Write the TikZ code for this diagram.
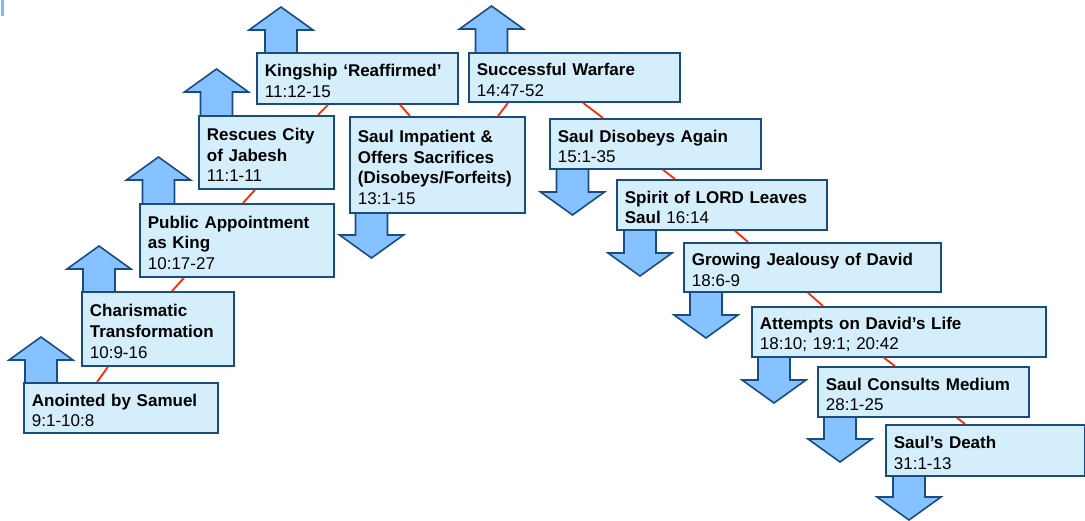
\documentclass[tikz,border=0pt]{standalone}
\usepackage{fontspec}
\setmainfont{Liberation Sans}
\usetikzlibrary{calc}
\definecolor{boxfill}{HTML}{D5EEFB}
\definecolor{boxline}{HTML}{1A4C7E}
\definecolor{arrfill}{HTML}{85C2FF}
\definecolor{linkred}{HTML}{FF2A00}
\definecolor{barblue}{HTML}{80B8FF}
\newcommand\fstrut{\rule{0pt}{17.3pt}}
\newcommand\UpArr[3]{\draw[arrowshape] ({#1-16},#3) -- ({#1-16},{#2+23}) -- ({#1-32},{#2+23}) -- (#1,#2) -- ({#1+32},{#2+23}) -- ({#1+16},{#2+23}) -- ({#1+16},#3) -- cycle;}
\newcommand\DnArr[3]{\draw[arrowshape] ({#1-16},#3) -- ({#1-16},{#2-23}) -- ({#1-32},{#2-23}) -- (#1,#2) -- ({#1+32},{#2-23}) -- ({#1+16},{#2-23}) -- ({#1+16},#3) -- cycle;}
\begin{document}
\begin{tikzpicture}[x=1pt,y=-1pt,
  evbox/.style={draw=boxline, fill=boxfill, line width=1.8pt, inner xsep=8pt, inner ysep=0pt,
    align=left, anchor=north west, font=\fontsize{17pt}{20.7pt}\selectfont,
    execute at begin node=\fstrut},
  arrowshape/.style={draw=boxline, fill=arrfill, line width=1.6pt, line join=miter},
  link/.style={draw=linkred, line width=1.8pt}]
\useasboundingbox (0,0) rectangle (1085,521);
\fill[barblue] (1,0) rectangle (3.5,16);
% arrows (behind boxes)
\UpArr{41}{337}{395}
\UpArr{99}{246}{300}
\UpArr{158.5}{157}{215}
\UpArr{216.5}{69}{125}
\UpArr{281}{7}{62}
\UpArr{491.5}{6}{62}
\DnArr{371.5}{258}{200}
\DnArr{572.5}{215}{158}
\DnArr{640}{276}{219}
\DnArr{706}{338}{281}
\DnArr{774}{403}{346}
\DnArr{840}{462}{406}
\DnArr{909}{520}{465}
% boxes
\path
 (23,382) node[evbox, text width=178pt, minimum height=50pt] (n1) {\textbf{Anointed by Samuel}\\9:1-10:8}
 (81,291) node[evbox, text width=136pt, minimum height=74pt] (n2) {\textbf{Charismatic}\\\textbf{Transformation}\\10:9-16}
 (139,203) node[evbox, text width=178pt, minimum height=73pt] (n3) {\textbf{Public Appointment}\\\textbf{as King}\\10:17-27}
 (198,115) node[evbox, text width=119pt, minimum height=73pt] (n4) {\textbf{Rescues City}\\\textbf{of Jabesh}\\11:1-11}
 (256,52) node[evbox, text width=185pt, minimum height=51pt] (n5) {\textbf{Kingship ‘Reaffirmed’}\\11:12-15}
 (349,116) node[evbox, text width=159pt, minimum height=96pt] (n6) {\textbf{Saul Impatient \&}\\\textbf{Offers Sacrifices}\\\textbf{(Disobeys/Forfeits)}\\13:1-15}
 (468,52) node[evbox, text width=195pt, minimum height=49pt] (n7) {\textbf{Successful Warfare}\\14:47-52}
 (549,118) node[evbox, text width=195pt, minimum height=50pt] (n8) {\textbf{Saul Disobeys Again}\\15:1-35}
 (616,179) node[evbox, text width=194pt, minimum height=50pt] (n9) {\textbf{Spirit of LORD Leaves}\\\textbf{Saul} 16:14}
 (683,242) node[evbox, text width=241pt, minimum height=49pt] (n10) {\textbf{Growing Jealousy of David}\\18:6-9}
 (751,306) node[evbox, text width=278pt, minimum height=50pt] (n11) {\textbf{Attempts on David’s Life}\\18:10; 19:1; 20:42}
 (817,366) node[evbox, text width=195pt, minimum height=50pt] (n12) {\textbf{Saul Consults Medium}\\28:1-25}
 (885,424) node[evbox, text width=183pt, minimum height=51pt] (n13) {\textbf{Saul’s Death}\\31:1-13};
% red connectors
\draw[link] ($(n1.north west)+(74,0)$) -- ($(n2.south west)+(27,0)$);
\draw[link] ($(n2.north west)+(91,0)$) -- ($(n3.south west)+(45,0)$);
\draw[link] ($(n3.north west)+(104,0)$) -- ($(n4.south west)+(57,0)$);
\draw[link] ($(n4.north west)+(120,0)$) -- ($(n5.south west)+(72,0)$);
\draw[link] ($(n5.south west)+(144,0)$) -- ($(n6.north west)+(61,0)$);
\draw[link] ($(n6.north west)+(149,0)$) -- ($(n7.south west)+(40,0)$);
\draw[link] ($(n7.south west)+(115,0)$) -- ($(n8.north west)+(54,0)$);
\draw[link] ($(n8.south west)+(114,0)$) -- ($(n9.north west)+(59,0)$);
\draw[link] ($(n9.south west)+(119,0)$) -- ($(n10.north west)+(65,0)$);
\draw[link] ($(n10.south west)+(125,0)$) -- ($(n11.north west)+(72,0)$);
\draw[link] ($(n11.south west)+(133,0)$) -- ($(n12.north west)+(78,0)$);
\draw[link] ($(n12.south west)+(140,0)$) -- ($(n13.north west)+(80,0)$);
\end{tikzpicture}
\end{document}
